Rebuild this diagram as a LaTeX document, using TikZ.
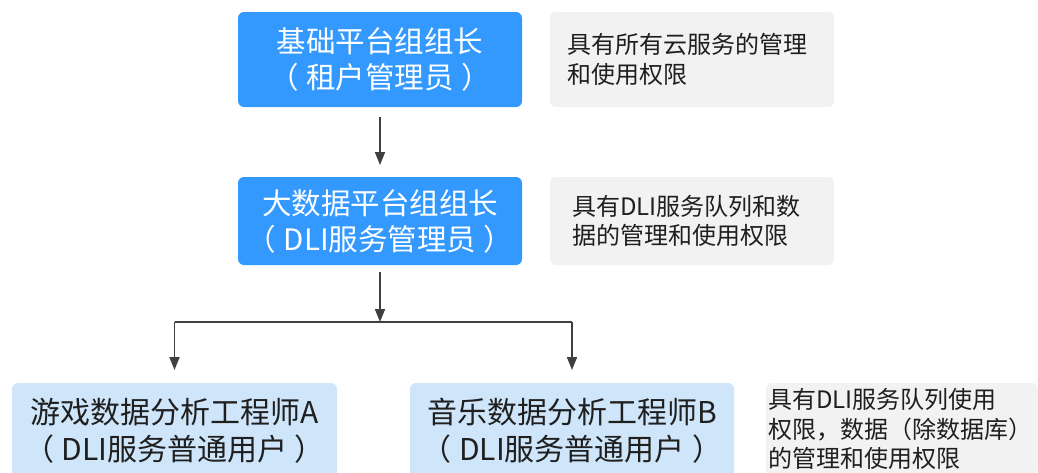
\documentclass[tikz,border=0pt]{standalone}
\usepackage{fontspec}
\setmainfont{Noto Sans CJK SC}
\usetikzlibrary{arrows.meta}
\definecolor{bluebox}{HTML}{3399FF}
\definecolor{lightbox}{HTML}{CFE5F9}
\definecolor{graybox}{HTML}{F2F2F2}
\definecolor{arrowc}{HTML}{404040}
\definecolor{txtc}{HTML}{1F1F1F}
\newcommand{\lp}{（\hspace{0.25em}}
\newcommand{\rp}{\hspace{0.25em}）}
\begin{document}
\begin{tikzpicture}[x=1pt,y=-1pt,
  boxbase/.style={rounded corners=6pt, inner sep=0pt, outer sep=0pt},
  topbox/.style={boxbase, fill=bluebox, text=white, minimum width=284pt, align=center, font=\fontsize{29.5}{36}\selectfont},
  userbox/.style={boxbase, fill=lightbox, text=txtc, minimum width=325pt, minimum height=95pt, align=center, font=\fontsize{30}{37}\selectfont},
  notebox/.style={boxbase, fill=graybox, text=txtc, align=left, font=\fontsize{24}{29.5}\selectfont},
  arr/.style={draw=arrowc, line width=1.8pt, -{Triangle[width=10pt,length=13pt]}},
  conn/.style={draw=arrowc, line width=1.8pt}
]
\clip (0,0) rectangle (1038,472);
\fill[white] (0,0) rectangle (1038,472);

\node[topbox, minimum height=95pt] (admin) at (380,59.5) {基础平台组组长\\\lp 租户管理员\rp};
\node[notebox, minimum width=284pt, minimum height=95pt, text width=250pt, inner xsep=17pt] (note1) at (692,59.5) {具有所有云服务的管理\\和使用权限};

\node[topbox, minimum height=88pt] (dli) at (380,221) {大数据平台组组长\\\lp DLI服务管理员\rp};
\node[notebox, minimum width=284pt, minimum height=88pt, text width=240pt, inner xsep=22pt] (note2) at (692,221) {具有DLI服务队列和数\\据的管理和使用权限};

\node[userbox] (usera) at (174.5,430.5) {游戏数据分析工程师A\\\lp DLI服务普通用户\rp};
\node[userbox, minimum width=324pt] (userb) at (572,430.5) {音乐数据分析工程师B\\\lp DLI服务普通用户\rp};
\node[notebox, anchor=north west, minimum width=272pt, minimum height=92pt, text width=268pt, inner xsep=2pt] (note3) at (766,383) {具有DLI服务队列使用\\权限，数据（除数据库）\\的管理和使用权限};

\coordinate (junc) at (380,322);
\draw[arr] ([yshift=-10pt]admin.south) -- ([yshift=12pt]dli.north);
\draw[arr] ([yshift=-7pt]dli.south) -- (junc);
\draw[conn] (junc -| usera.north) -- (junc -| userb.north);
\draw[arr] (junc -| usera.north) -- ([yshift=13pt]usera.north);
\draw[arr] (junc -| userb.north) -- ([yshift=13pt]userb.north);
\end{tikzpicture}
\end{document}
